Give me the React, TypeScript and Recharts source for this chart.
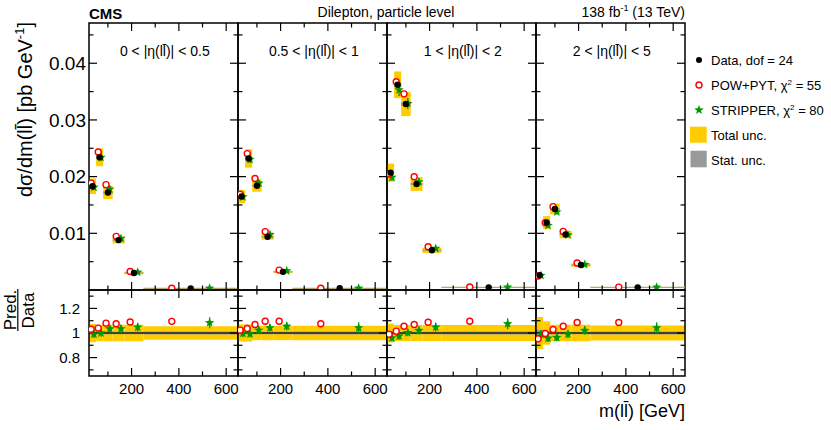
import React from 'react';
import { ComposedChart, Scatter, XAxis, YAxis, ReferenceArea, ReferenceLine, ErrorBar } from 'recharts';

const FONT = '"Liberation Sans", Arial, Helvetica, sans-serif';

// ---- data ----
const M_BIN_EDGES = [20, 50, 80, 120, 170, 250, 650];
const ETA_BIN_LABELS = ['0 < |η(ll\u0304)| < 0.5', '0.5 < |η(ll\u0304)| < 1', '1 < |η(ll\u0304)| < 2', '2 < |η(ll\u0304)| < 5'];

const DATA_ETA1 = [0.0183, 0.0234, 0.0172, 0.0088, 0.003, 0.00028];
const DATA_ETA2 = [0.0165, 0.0232, 0.0184, 0.0094, 0.0032, 0.0003];
const DATA_ETA3 = [0.0207, 0.0362, 0.0328, 0.0187, 0.007, 0.00047];
const DATA_ETA4 = [0.0026, 0.0119, 0.0143, 0.0098, 0.0044, 0.00047];

const POW_ETA1 = [0.01885, 0.02434, 0.01858, 0.00946, 0.00327, 0.00031];
const POW_ETA2 = [0.01688, 0.02406, 0.01967, 0.0103, 0.00351, 0.00032];
const POW_ETA3 = [0.02049, 0.03674, 0.0346, 0.01999, 0.00762, 0.00052];
const POW_ETA4 = [0.00248, 0.01185, 0.0147, 0.01034, 0.00477, 0.00051];

const STRIP_ETA1 = [0.01812, 0.0234, 0.01778, 0.0091, 0.00314, 0.0003];
const STRIP_ETA2 = [0.01643, 0.02304, 0.01882, 0.00979, 0.00338, 0.00031];
const STRIP_ETA3 = [0.01987, 0.0353, 0.0329, 0.01907, 0.00734, 0.00051];
const STRIP_ETA4 = [0.00257, 0.01139, 0.01377, 0.0097, 0.00449, 0.00049];

const POW_RATIO_ETA1 = [1.03, 1.04, 1.08, 1.075, 1.09, 1.095];
const POW_RATIO_ETA2 = [1.023, 1.037, 1.069, 1.096, 1.096, 1.075];
const POW_RATIO_ETA3 = [0.99, 1.015, 1.055, 1.069, 1.088, 1.096];
const POW_RATIO_ETA4 = [0.953, 0.996, 1.028, 1.055, 1.085, 1.085];

const STRIP_RATIO_ETA1 = [0.99, 1.0, 1.034, 1.034, 1.047, 1.083];
const STRIP_RATIO_ETA2 = [0.996, 0.993, 1.023, 1.042, 1.055, 1.042];
const STRIP_RATIO_ETA3 = [0.96, 0.975, 1.003, 1.02, 1.048, 1.075];
const STRIP_RATIO_ETA4 = [0.988, 0.957, 0.963, 0.99, 1.02, 1.042];

const TOTAL_UNC_ETA1 = [0.075, 0.067, 0.067, 0.067, 0.067, 0.055];
const TOTAL_UNC_ETA2 = [0.07, 0.07, 0.058, 0.058, 0.058, 0.058];
const TOTAL_UNC_ETA3 = [0.077, 0.065, 0.065, 0.065, 0.065, 0.065];
const TOTAL_UNC_ETA4 = [0.13, 0.095, 0.067, 0.067, 0.067, 0.062];

const STAT_UNC_ETA1 = [0.012, 0.01, 0.01, 0.01, 0.01, 0.012];
const STAT_UNC_ETA2 = [0.012, 0.01, 0.01, 0.01, 0.01, 0.012];
const STAT_UNC_ETA3 = [0.012, 0.01, 0.01, 0.01, 0.01, 0.012];
const STAT_UNC_ETA4 = [0.025, 0.015, 0.012, 0.01, 0.01, 0.012];

const POW_REL_ERR = [0.01, 0.01, 0.01, 0.012, 0.015, 0.025];
const STRIP_REL_ERR = [0.03, 0.03, 0.03, 0.032, 0.035, 0.045];

const TOP_Y_TICKS = [0.01, 0.02, 0.03, 0.04];
const TOP_Y_MINOR = [0.005, 0.015, 0.025, 0.035, 0.045];
const RATIO_Y_TICKS = [0.8, 1, 1.2];
const RATIO_Y_MINOR = [0.7, 0.9, 1.1, 1.3];
const X_TICKS = [200, 400, 600];
const X_MINOR = [100, 300, 500];

const PANELS = [
  { data: DATA_ETA1, pow: POW_ETA1, strip: STRIP_ETA1, powR: POW_RATIO_ETA1, stripR: STRIP_RATIO_ETA1, tot: TOTAL_UNC_ETA1, stat: STAT_UNC_ETA1 },
  { data: DATA_ETA2, pow: POW_ETA2, strip: STRIP_ETA2, powR: POW_RATIO_ETA2, stripR: STRIP_RATIO_ETA2, tot: TOTAL_UNC_ETA2, stat: STAT_UNC_ETA2 },
  { data: DATA_ETA3, pow: POW_ETA3, strip: STRIP_ETA3, powR: POW_RATIO_ETA3, stripR: STRIP_RATIO_ETA3, tot: TOTAL_UNC_ETA3, stat: STAT_UNC_ETA3 },
  { data: DATA_ETA4, pow: POW_ETA4, strip: STRIP_ETA4, powR: POW_RATIO_ETA4, stripR: STRIP_RATIO_ETA4, tot: TOTAL_UNC_ETA4, stat: STAT_UNC_ETA4 },
];

// ---- layout ----
const X_DOMAIN: [number, number] = [20, 650];
const TOP_DOMAIN: [number, number] = [0, 0.0471];
const RATIO_DOMAIN: [number, number] = [0.65, 1.35];
const PLOT_LEFT = 89.3;
const PANEL_W = 149;
const TOP_Y = 23;
const TOP_H = 267;
const RATIO_Y = 290;
const RATIO_H = 86;
const M = 5;
const YAXIS_W = 60;

const YELLOW = '#ffcc00';
const GRAY = '#999999';
const RED = '#ff0000';
const GREEN = '#009900';

const bins = M_BIN_EDGES.slice(0, -1).map((lo, i) => {
  const hi = M_BIN_EDGES[i + 1];
  return { lo, hi, c: (lo + hi) / 2, w: hi - lo };
});

const xPerPx = (X_DOMAIN[1] - X_DOMAIN[0]) / PANEL_W;

function DataDot(props: any) {
  const { cx, cy } = props;
  if (cx == null || cy == null) return <g />;
  return <circle cx={cx} cy={cy} r={3.2} fill="#000" />;
}
function OpenCircle(props: any) {
  const { cx, cy } = props;
  if (cx == null || cy == null) return <g />;
  return <circle cx={cx} cy={cy} r={3.0} fill="#fff" stroke={RED} strokeWidth={1.4} />;
}
function starPoints(cx: number, cy: number, ro: number, ri: number) {
  const pts: string[] = [];
  for (let k = 0; k < 10; k++) {
    const r = k % 2 === 0 ? ro : ri;
    const a = ((-90 + k * 36) * Math.PI) / 180;
    pts.push(`${cx + r * Math.cos(a)},${cy + r * Math.sin(a)}`);
  }
  return pts.join(' ');
}
function Star(props: any) {
  const { cx, cy } = props;
  if (cx == null || cy == null) return <g />;
  return <polygon points={starPoints(cx, cy, 5, 2.1)} fill={GREEN} />;
}

function tickLines(yDomain: [number, number], plotH: number, yMajor: number[], yMinor: number[], prefix: string) {
  const yPerPx = (yDomain[1] - yDomain[0]) / plotH;
  const out: any[] = [];
  const major = 8, minor = 4.5;
  X_TICKS.forEach((t) => {
    out.push(<ReferenceLine key={`${prefix}xb${t}`} segment={[{ x: t, y: yDomain[0] }, { x: t, y: yDomain[0] + major * yPerPx }]} stroke="#000" strokeWidth={1.2} />);
    out.push(<ReferenceLine key={`${prefix}xt${t}`} segment={[{ x: t, y: yDomain[1] }, { x: t, y: yDomain[1] - major * yPerPx }]} stroke="#000" strokeWidth={1.2} />);
  });
  X_MINOR.forEach((t) => {
    out.push(<ReferenceLine key={`${prefix}mxb${t}`} segment={[{ x: t, y: yDomain[0] }, { x: t, y: yDomain[0] + minor * yPerPx }]} stroke="#000" strokeWidth={1.2} />);
    out.push(<ReferenceLine key={`${prefix}mxt${t}`} segment={[{ x: t, y: yDomain[1] }, { x: t, y: yDomain[1] - minor * yPerPx }]} stroke="#000" strokeWidth={1.2} />);
  });
  yMajor.forEach((t) => {
    out.push(<ReferenceLine key={`${prefix}yl${t}`} segment={[{ x: X_DOMAIN[0], y: t }, { x: X_DOMAIN[0] + major * xPerPx, y: t }]} stroke="#000" strokeWidth={1.2} />);
    out.push(<ReferenceLine key={`${prefix}yr${t}`} segment={[{ x: X_DOMAIN[1], y: t }, { x: X_DOMAIN[1] - major * xPerPx, y: t }]} stroke="#000" strokeWidth={1.2} />);
  });
  yMinor.forEach((t) => {
    out.push(<ReferenceLine key={`${prefix}myl${t}`} segment={[{ x: X_DOMAIN[0], y: t }, { x: X_DOMAIN[0] + minor * xPerPx, y: t }]} stroke="#000" strokeWidth={1.2} />);
    out.push(<ReferenceLine key={`${prefix}myr${t}`} segment={[{ x: X_DOMAIN[1], y: t }, { x: X_DOMAIN[1] - minor * xPerPx, y: t }]} stroke="#000" strokeWidth={1.2} />);
  });
  return out;
}

function TopPanel({ p }: { p: number }) {
  const first = p === 0;
  const yw = first ? YAXIS_W : 0;
  const P = PANELS[p];
  const dataPts = bins.map((b, i) => ({ x: b.c, y: P.data[i] }));
  const powPts = bins.map((b, i) => ({ x: b.c - 0.2 * b.w, y: P.pow[i], e: P.pow[i] * POW_REL_ERR[i] }));
  const stripPts = bins.map((b, i) => ({ x: b.c + 0.2 * b.w, y: P.strip[i], e: P.strip[i] * STRIP_REL_ERR[i] }));
  return (
    <div style={{ position: 'absolute', left: PLOT_LEFT + p * PANEL_W - yw - M, top: TOP_Y - M }}>
      <ComposedChart width={PANEL_W + yw + 2 * M} height={TOP_H + 2 * M} margin={{ top: M, right: M, bottom: M, left: M }}>
        <XAxis type="number" dataKey="x" domain={X_DOMAIN} hide allowDataOverflow />
        <YAxis
          type="number"
          dataKey="y"
          domain={TOP_DOMAIN}
          hide={!first}
          width={yw}
          ticks={TOP_Y_TICKS}
          interval={0}
          tickLine={false}
          axisLine={false}
          tickSize={0}
          tickMargin={3}
          tick={{ fontSize: 19, fill: '#000', fontFamily: FONT }}
          allowDataOverflow
        />
        {bins.map((b, i) => (
          <ReferenceArea key={`t${i}`} x1={b.lo} x2={b.hi} y1={P.data[i] * (1 - P.tot[i])} y2={P.data[i] * (1 + P.tot[i])} fill={YELLOW} fillOpacity={1} stroke="none" />
        ))}
        {bins.map((b, i) => (
          <ReferenceArea key={`s${i}`} x1={b.lo} x2={b.hi} y1={P.data[i] * (1 - P.stat[i])} y2={P.data[i] * (1 + P.stat[i])} fill={GRAY} fillOpacity={1} stroke="none" />
        ))}
        {bins.map((b, i) => (
          <ReferenceLine key={`h${i}`} segment={[{ x: b.lo, y: P.data[i] }, { x: b.hi, y: P.data[i] }]} stroke="#b3a66a" strokeWidth={1.3} />
        ))}
        {tickLines(TOP_DOMAIN, TOP_H, TOP_Y_TICKS, TOP_Y_MINOR, 'top')}
        <Scatter data={stripPts} dataKey="y" shape={Star} isAnimationActive={false}>
          <ErrorBar dataKey="e" direction="y" width={0} stroke={GREEN} strokeWidth={1.3} isAnimationActive={false} />
        </Scatter>
        <Scatter data={powPts} dataKey="y" shape={OpenCircle} isAnimationActive={false}>
          <ErrorBar dataKey="e" direction="y" width={0} stroke={RED} strokeWidth={1.3} isAnimationActive={false} />
        </Scatter>
        <Scatter data={dataPts} dataKey="y" shape={DataDot} isAnimationActive={false} />
        <ReferenceArea x1={X_DOMAIN[0]} x2={X_DOMAIN[1]} y1={TOP_DOMAIN[0]} y2={TOP_DOMAIN[1]} fill="none" fillOpacity={0} stroke="#000" strokeWidth={1.5} />
      </ComposedChart>
    </div>
  );
}

function RatioPanel({ p }: { p: number }) {
  const first = p === 0;
  const yw = first ? YAXIS_W : 0;
  const P = PANELS[p];
  const powPts = bins.map((b, i) => ({ x: b.c - 0.2 * b.w, y: P.powR[i], e: POW_REL_ERR[i] }));
  const stripPts = bins.map((b, i) => ({ x: b.c + 0.2 * b.w, y: P.stripR[i], e: STRIP_REL_ERR[i] }));
  const xAxisH = 25;
  return (
    <div style={{ position: 'absolute', left: PLOT_LEFT + p * PANEL_W - yw - M, top: RATIO_Y - M }}>
      <ComposedChart width={PANEL_W + yw + 2 * M} height={RATIO_H + xAxisH + 2 * M} margin={{ top: M, right: M, bottom: M, left: M }}>
        <XAxis
          type="number"
          dataKey="x"
          domain={X_DOMAIN}
          ticks={X_TICKS}
          interval={0}
          height={xAxisH}
          tickLine={false}
          axisLine={false}
          tickSize={0}
          tickMargin={7}
          tick={{ fontSize: 15, fill: '#000', fontFamily: FONT }}
          allowDataOverflow
        />
        <YAxis
          type="number"
          dataKey="y"
          domain={RATIO_DOMAIN}
          hide={!first}
          width={yw}
          ticks={RATIO_Y_TICKS}
          interval={0}
          tickLine={false}
          axisLine={false}
          tickSize={0}
          tickMargin={9}
          tick={{ fontSize: 15, fill: '#000', fontFamily: FONT }}
          allowDataOverflow
        />
        {bins.map((b, i) => (
          <ReferenceArea key={`t${i}`} x1={b.lo} x2={b.hi} y1={1 - P.tot[i]} y2={1 + P.tot[i]} fill={YELLOW} fillOpacity={1} stroke="none" />
        ))}
        {bins.map((b, i) => (
          <ReferenceArea key={`s${i}`} x1={b.lo} x2={b.hi} y1={1 - P.stat[i]} y2={1 + P.stat[i]} fill={GRAY} fillOpacity={1} stroke="none" />
        ))}
        <ReferenceLine y={1} stroke="#222" strokeWidth={1.6} />
        {tickLines(RATIO_DOMAIN, RATIO_H, RATIO_Y_TICKS, RATIO_Y_MINOR, 'rat')}
        <Scatter data={stripPts} dataKey="y" shape={Star} isAnimationActive={false}>
          <ErrorBar dataKey="e" direction="y" width={0} stroke={GREEN} strokeWidth={1.3} isAnimationActive={false} />
        </Scatter>
        <Scatter data={powPts} dataKey="y" shape={OpenCircle} isAnimationActive={false}>
          <ErrorBar dataKey="e" direction="y" width={0} stroke={RED} strokeWidth={1.3} isAnimationActive={false} />
        </Scatter>
        <ReferenceArea x1={X_DOMAIN[0]} x2={X_DOMAIN[1]} y1={RATIO_DOMAIN[0]} y2={RATIO_DOMAIN[1]} fill="none" fillOpacity={0} stroke="#000" strokeWidth={1.5} />
      </ComposedChart>
    </div>
  );
}

const LEGEND_ITEMS = ['Data, dof = 24', 'POW+PYT', 'STRIPPER', 'Total unc.', 'Stat. unc.'];
const CHI2 = ['55', '80'];

function Overlay() {
  const legX = 699;
  const legTextX = 711;
  const rows = [60, 85, 110, 135, 160];
  return (
    <svg width={831} height={430} style={{ position: 'absolute', left: 0, top: 0, pointerEvents: 'none' }} fontFamily={FONT}>
      <text x={89} y={19} fontSize={15} fontWeight="bold" fill="#000">CMS</text>
      <text x={386} y={17} fontSize={14} textAnchor="middle" fill="#000">Dilepton, particle level</text>
      <text x={685} y={17} fontSize={14} textAnchor="end" fill="#000">
        138 fb<tspan fontSize={9} dy={-6}>-1</tspan><tspan dy={6}> (13 TeV)</tspan>
      </text>
      {ETA_BIN_LABELS.map((l, i) => (
        <text key={l} x={PLOT_LEFT + i * PANEL_W + PANEL_W / 2 + 1} y={56} fontSize={14} textAnchor="middle" fill="#000">{l}</text>
      ))}
      <g transform="translate(32,22) rotate(-90)">
        <text x={0} y={0} fontSize={20} textAnchor="end" fill="#000">
          dσ/dm(ll{'\u0304'}) [pb GeV<tspan fontSize={13} dy={-8}>-1</tspan><tspan dy={8}>]</tspan>
        </text>
      </g>
      <g transform="translate(15.5,310) rotate(-90)">
        <text x={0} y={0} fontSize={17} textAnchor="middle" fill="#000">Pred.</text>
      </g>
      <line x1={17.8} y1={289} x2={17.8} y2={331} stroke="#000" strokeWidth={1.2} />
      <g transform="translate(33.5,310.5) rotate(-90)">
        <text x={0} y={0} fontSize={17} textAnchor="middle" fill="#000">Data</text>
      </g>
      <text x={685} y={416.5} fontSize={18} textAnchor="end" fill="#000">m(ll{'\u0304'}) [GeV]</text>

      <circle cx={legX} cy={rows[0]} r={3} fill="#000" />
      <circle cx={legX} cy={rows[1]} r={3} fill="#fff" stroke={RED} strokeWidth={1.4} />
      <polygon points={starPoints(legX, rows[2], 5, 2.1)} fill={GREEN} />
      <rect x={690} y={126.7} width={16.7} height={16} fill={YELLOW} />
      <rect x={690.5} y={150.7} width={16.2} height={16.6} fill={GRAY} />
      <text x={legTextX} y={rows[0] + 4.5} fontSize={13} fill="#000">{LEGEND_ITEMS[0]}</text>
      <text x={legTextX} y={rows[1] + 4.5} fontSize={13} fill="#000">
        {LEGEND_ITEMS[1]}, χ<tspan fontSize={8} dy={-5}>2</tspan><tspan dy={5}> = {CHI2[0]}</tspan>
      </text>
      <text x={legTextX} y={rows[2] + 4.5} fontSize={13} fill="#000">
        {LEGEND_ITEMS[2]}, χ<tspan fontSize={8} dy={-5}>2</tspan><tspan dy={5}> = {CHI2[1]}</tspan>
      </text>
      <text x={legTextX} y={rows[3] + 4.5} fontSize={13} fill="#000">{LEGEND_ITEMS[3]}</text>
      <text x={legTextX} y={rows[4] + 4.5} fontSize={13} fill="#000">{LEGEND_ITEMS[4]}</text>
    </svg>
  );
}

export default function App() {
  return (
    <div style={{ position: 'absolute', left: 0, top: 0, width: 831, height: 430, background: '#fff', fontFamily: FONT, overflow: 'hidden' }}>
      {[0, 1, 2, 3].map((p) => (
        <TopPanel key={`top${p}`} p={p} />
      ))}
      {[0, 1, 2, 3].map((p) => (
        <RatioPanel key={`rat${p}`} p={p} />
      ))}
      <Overlay />
    </div>
  );
}
